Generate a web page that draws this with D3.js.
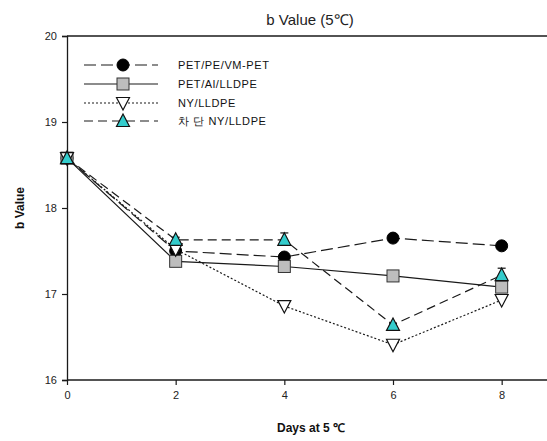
<!DOCTYPE html>
<html>
<head>
<meta charset="utf-8">
<script src="https://cdn.jsdelivr.net/npm/d3@7"></script>
<style>
  html, body { margin: 0; padding: 0; background: #fff; }
  svg { display: block; }
</style>
</head>
<body>
<svg id="chart" width="547" height="441"></svg>
<script>
// Storage days and b values for each packaging film
const days = [0, 2, 4, 6, 8];
const seriesNames = ["PET/PE/VM-PET", "PET/Al/LLDPE", "NY/LLDPE", "차 단 NY/LLDPE"];
const vmPet   = [18.58, 17.50, 17.43, 17.65, 17.56];
const alLldpe = [18.58, 17.38, 17.32, 17.21, 17.08];
const nyLldpe = [18.58, 17.52, 16.86, 16.41, 16.93];
const barrierNy = [18.58, 17.63, 17.63, 16.64, 17.22];
const barrierNyErr = [0, 0.03, 0.08, 0.02, 0.08];
const xTicks = [0, 2, 4, 6, 8];
const yTicks = [16, 17, 18, 19, 20];

const svg = d3.select("#chart");
const font = "Arial, 'Liberation Sans', sans-serif";

const x = d3.scaleLinear().domain([0, 9]).range([67, 556]);
const y = d3.scaleLinear().domain([16, 20]).range([380, 36]);

const lineCol = "#1a1a1a";

// frame: top line
svg.append("line")
  .attr("x1", x(0)).attr("x2", 547)
  .attr("y1", y(20)).attr("y2", y(20))
  .attr("stroke", lineCol).attr("stroke-width", 1.3);

// axes
const xAxis = svg.append("g").attr("transform", `translate(0,${y(16)})`)
  .call(d3.axisBottom(x).tickValues(xTicks).tickSize(5).tickPadding(6).tickFormat(d3.format("d")));
xAxis.select(".domain").attr("d", `M${x(0)},0H547`);
const yAxis = svg.append("g").attr("transform", `translate(${x(0)},0)`)
  .call(d3.axisLeft(y).tickValues(yTicks).tickSize(5).tickPadding(5).tickFormat(d3.format("d")));
[xAxis, yAxis].forEach(g => {
  g.selectAll(".domain").attr("stroke", lineCol).attr("stroke-width", 1.3);
  g.selectAll(".tick line").attr("stroke", lineCol).attr("stroke-width", 1.2);
  g.selectAll("text").attr("font-family", font).attr("font-size", 11).attr("fill", "#222");
});

// titles
svg.append("text").attr("x", 310).attr("y", 25).attr("text-anchor", "middle")
  .attr("font-family", font).attr("font-size", 15).attr("fill", "#222").text("b Value (5℃)");
svg.append("text").attr("x", 311).attr("y", 432).attr("text-anchor", "middle")
  .attr("font-family", font).attr("font-size", 12).attr("font-weight", "bold").attr("fill", "#111")
  .text("Days at 5 ℃");
svg.append("text").attr("transform", `translate(24,${y(18)}) rotate(-90)`).attr("text-anchor", "middle")
  .attr("font-family", font).attr("font-size", 12).attr("font-weight", "bold").attr("fill", "#111")
  .text("b Value");

const series = [
  { name: seriesNames[0], values: vmPet, dash: "12,5", marker: "circle", fill: "#000" },
  { name: seriesNames[1], values: alLldpe, dash: null, marker: "square", fill: "#bdbdbd" },
  { name: seriesNames[2], values: nyLldpe, dash: "2,2", marker: "down", fill: "#fff" },
  { name: seriesNames[3], values: barrierNy, dash: "9,5", marker: "up", fill: "#33cccc", err: barrierNyErr }
];

function drawMarker(g, type, fill, cx, cy) {
  if (type === "circle") {
    g.append("circle").attr("cx", cx).attr("cy", cy).attr("r", 6)
      .attr("fill", fill).attr("stroke", "#000").attr("stroke-width", 1);
  } else if (type === "square") {
    g.append("rect").attr("x", cx - 6).attr("y", cy - 6).attr("width", 12).attr("height", 12)
      .attr("fill", fill).attr("stroke", "#333").attr("stroke-width", 1);
  } else {
    const dir = type === "up" ? -1 : 1;
    const pts = [[cx - 6.5, cy - dir * 5.5], [cx + 6.5, cy - dir * 5.5], [cx, cy + dir * 7]];
    g.append("polygon").attr("points", pts.map(p => p.join(",")).join(" "))
      .attr("fill", fill).attr("stroke", "#111").attr("stroke-width", 1.2);
  }
}

const line = d3.line().x((d, i) => x(days[i])).y(d => y(d));

series.forEach(s => {
  const g = svg.append("g");
  g.append("path").attr("d", line(s.values)).attr("fill", "none")
    .attr("stroke", lineCol).attr("stroke-width", 1.2)
    .attr("stroke-dasharray", s.dash);
  if (s.err) {
    s.values.forEach((v, i) => {
      if (s.err[i] <= 0) return;
      const xi = x(days[i]);
      g.append("line").attr("x1", xi).attr("x2", xi).attr("y1", y(v)).attr("y2", y(v + s.err[i]))
        .attr("stroke", "#111").attr("stroke-width", 1);
      g.append("line").attr("x1", xi - 4).attr("x2", xi + 4)
        .attr("y1", y(v + s.err[i])).attr("y2", y(v + s.err[i]))
        .attr("stroke", "#111").attr("stroke-width", 1.2);
    });
  }
  s.values.forEach((v, i) => drawMarker(g, s.marker, s.fill, x(days[i]), y(v)));
});

// legend
const legY = [65, 84, 103, 121];
series.forEach((s, i) => {
  const g = svg.append("g");
  g.append("line").attr("x1", 84).attr("x2", 158).attr("y1", legY[i]).attr("y2", legY[i])
    .attr("stroke", lineCol).attr("stroke-width", 1.2).attr("stroke-dasharray", s.dash);
  drawMarker(g, s.marker, s.fill, 123, legY[i]);
  g.append("text").attr("x", 178).attr("y", legY[i] + 4)
    .attr("font-family", font).attr("font-size", 11).attr("letter-spacing", 0.6).attr("fill", "#111")
    .text(s.name);
});
</script>
</body>
</html>
